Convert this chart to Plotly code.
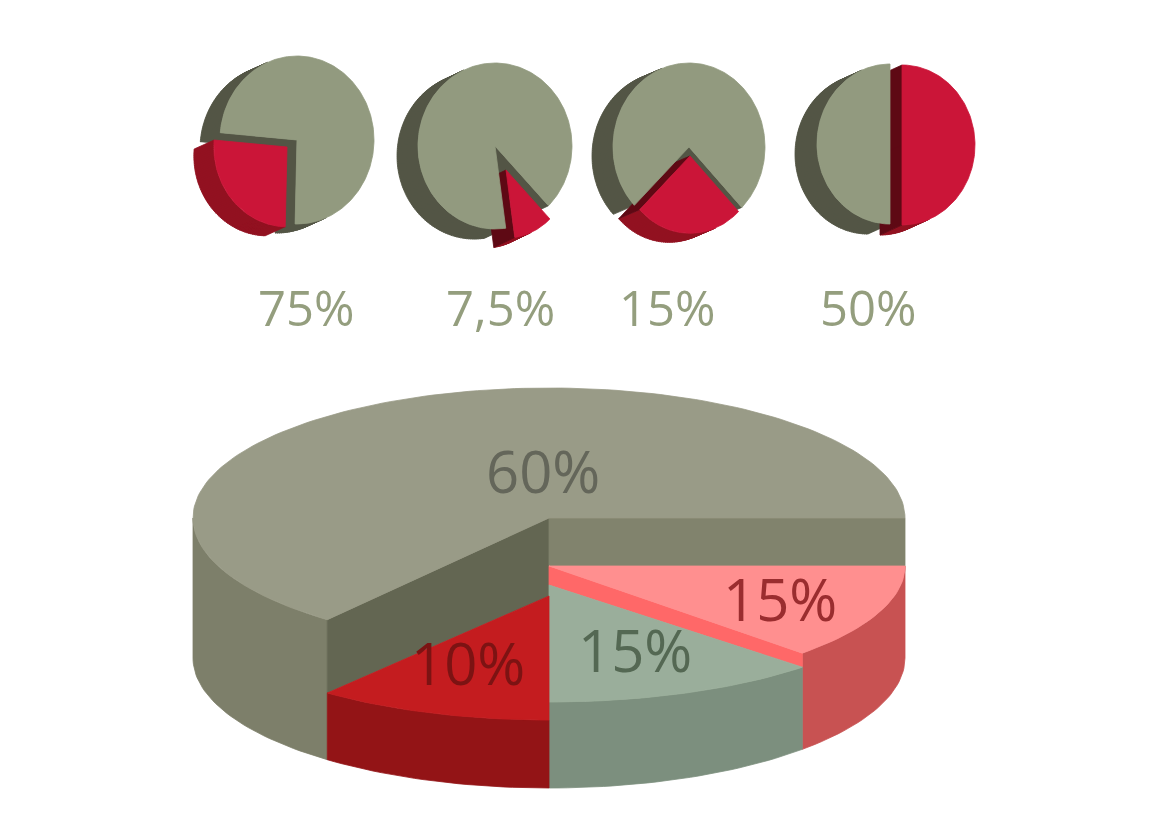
import numpy as np
import plotly.graph_objects as go

# ---- data ----
small_labels = ["75%", "7,5%", "15%", "50%"]
# size of the red slice as it is drawn in each small disc (percent of the disc)
small_red_share = [26, 10, 25, 50]

big_labels = ["60%", "10%", "15%", "15%"]
# slice sizes as drawn in the big pie (grey, red, green, pink)
big_share = [64.3, 10.7, 12.6, 12.4]

# ---- layout / style ----
small_centres = [(297, 140), (495, 146), (689, 147), (890, 144)]
small_radii = [(77, 84), (77, 83), (76, 84), (73, 80)]
small_depth = [(-20, 9), (-21, 10), (-21, 9), (-22, 10)]
small_red_start = [175, 278, 224, 270]
small_red_shift = [(-10, 7), (11, 24), (1, 9), (12, 1)]
small_red_scale = [0.95, 0.82, 0.92, 1.0]
small_label_pos = [(306, 307), (500, 307), (667, 307), (868, 307)]

grey_face, grey_side = "#929a7f", "#535545"
red_face, red_rim, red_cut = "#cb1538", "#921121", "#5e0914"

big_cx, big_a = 549, 356
big_bottom = (658, 130)
# top level (centre y, half height) of each slice: grey, red, green, pink
big_levels = [(518, 130), (596, 124), (585, 117), (566, 124)]
big_top_col = ["#999b87", "#c41c1f", "#9aae9b", "#ff8f8f"]
big_side_col = ["#7d7f6a", "#931416", "#7c8f7e", "#c85252"]
big_label_pos = [(543, 470), (468, 662), (635, 649), (780, 598)]
big_label_col = ["#64665a", "#7c1313", "#546853", "#9a2d2f"]


def ell(cx, cy, rx, ry, t0, t1):
    n = max(3, int(abs(t1 - t0) / 1.5) + 2)
    t = np.radians(np.linspace(t0, t1, n))
    return list(cx + rx * np.cos(t)), list(cy - ry * np.sin(t))


def sector(cx, cy, rx, ry, t0, t1):
    xs, ys = ell(cx, cy, rx, ry, t0, t1)
    return [cx] + xs + [cx], [cy] + ys + [cy]


def add_poly(fig, xs, ys, color):
    fig.add_trace(go.Scatter(x=xs, y=ys, mode="lines", fill="toself",
                             fillcolor=color, line=dict(color=color, width=0.8),
                             hoverinfo="skip", showlegend=False))


def side_quads(xs, ys, d):
    # visible side walls of a sector pushed back along d
    pts = list(zip(xs, ys))
    area = sum(x0 * y1 - x1 * y0 for (x0, y0), (x1, y1) in zip(pts[:-1], pts[1:]))
    sgn = 1 if area > 0 else -1
    rim, cut = ([], []), ([], [])
    for i in range(len(pts) - 1):
        (x0, y0), (x1, y1) = pts[i], pts[i + 1]
        nx, ny = sgn * (y1 - y0), -sgn * (x1 - x0)
        if nx * d[0] + ny * d[1] <= 0:
            continue
        q = [(x0, y0), (x1, y1), (x1 + d[0], y1 + d[1]), (x0 + d[0], y0 + d[1])]
        qa = sum(a[0] * b[1] - b[0] * a[1] for a, b in zip(q, q[1:] + q[:1]))
        if qa < 0:
            q = q[::-1]
        tgt = cut if i in (0, len(pts) - 2) else rim
        tgt[0].extend([p[0] for p in q] + [q[0][0], None])
        tgt[1].extend([p[1] for p in q] + [q[0][1], None])
    return rim, cut


fig = go.Figure()

# small exploded discs
for i in range(len(small_labels)):
    cx, cy = small_centres[i]
    rx, ry = small_radii[i]
    d = small_depth[i]
    r0 = small_red_start[i]
    r1 = r0 + small_red_share[i] * 3.6
    sx, sy = small_red_shift[i]
    k = small_red_scale[i]

    gx, gy = sector(cx, cy, rx, ry, r1, r0 + 360)
    redx, redy = sector(cx + sx, cy + sy, rx * k, ry * k, r0, r1)

    g_rim, g_cut = side_quads(gx, gy, d)
    r_rim, r_cut = side_quads(redx, redy, d)
    add_poly(fig, g_rim[0] + g_cut[0], g_rim[1] + g_cut[1], grey_side)
    add_poly(fig, r_rim[0], r_rim[1], red_rim)
    add_poly(fig, r_cut[0], r_cut[1], red_cut)
    add_poly(fig, gx, gy, grey_face)
    add_poly(fig, redx, redy, red_face)

# big stepped pie
bounds = np.concatenate([[0], np.cumsum(big_share) * 3.6])


def level_pt(lvl, t, r=1.0):
    cy, b = lvl
    return big_cx + r * big_a * np.cos(np.radians(t)), cy - r * b * np.sin(np.radians(t))


def big_side(j):
    t0, t1 = bounds[j], bounds[j + 1]
    lo, hi = max(t0, 180), min(t1, 360)
    if lo >= hi:
        return
    cy, b = big_levels[j]
    tx, ty = ell(big_cx, cy, big_a, b, lo, hi)
    bx, by = ell(big_cx, big_bottom[0], big_a, big_bottom[1], hi, lo)
    add_poly(fig, tx + bx + [tx[0]], ty + by + [ty[0]], big_side_col[j])


def big_cut(t, upper, lower, color):
    c1 = level_pt(big_levels[upper], t, 0)
    e1 = level_pt(big_levels[upper], t)
    e2 = level_pt(big_levels[lower], t)
    c2 = level_pt(big_levels[lower], t, 0)
    q = [c1, e1, e2, c2, c1]
    add_poly(fig, [p[0] for p in q], [p[1] for p in q], color)


def big_top_face(j):
    cy, b = big_levels[j]
    xs, ys = sector(big_cx, cy, big_a, b, bounds[j], bounds[j + 1])
    add_poly(fig, xs, ys, big_top_col[j])


# grey (back), then pink, green, red
big_side(0)
big_cut(bounds[1], 0, 1, "#636652")
big_cut(bounds[0], 0, 3, "#81836d")
big_top_face(0)
big_side(3)
big_cut(bounds[3], 3, 2, "#ff6868")
big_top_face(3)
big_side(2)
big_top_face(2)
big_side(1)
big_top_face(1)

annotations = []
for lab, (x, y) in zip(small_labels, small_label_pos):
    annotations.append(dict(x=x, y=y, xref="x", yref="y", text=lab, showarrow=False,
                            font=dict(family="Open Sans", size=49, color="#949e7e")))
for lab, (x, y), col in zip(big_labels, big_label_pos, big_label_col):
    annotations.append(dict(x=x, y=y, xref="x", yref="y", text=lab, showarrow=False,
                            font=dict(family="Open Sans", size=58, color=col)))

fig.update_layout(
    width=1150, height=829,
    margin=dict(l=0, r=0, t=0, b=0),
    paper_bgcolor="white", plot_bgcolor="white",
    showlegend=False,
    xaxis=dict(range=[0, 1150], visible=False, fixedrange=True),
    yaxis=dict(range=[829, 0], visible=False, fixedrange=True),
    annotations=annotations,
)

fig.write_html("out.html", config={"displayModeBar": False},
               post_script="document.body.style.margin='0';")
